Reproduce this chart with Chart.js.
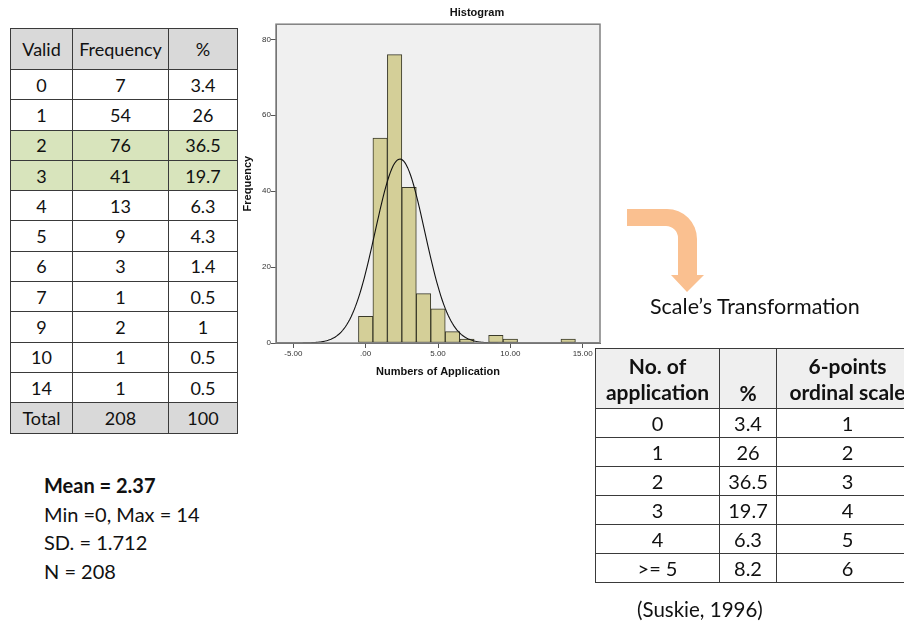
<!DOCTYPE html>
<html>
<head>
<meta charset="utf-8">
<script src="https://cdn.jsdelivr.net/npm/chart.js@4/dist/chart.umd.min.js"></script>
<style>
  html, body { margin:0; padding:0; background:#fff; }
  body { width:904px; height:622px; position:relative; overflow:hidden; font-family: Lato, "Open Sans", sans-serif; color:#111; }
  table { border-collapse:collapse; position:absolute; table-layout:fixed; }
  td, th { border:1px solid #3a3a3a; text-align:center; padding:0; }
  #t1 { left:10px; top:28px; font-size:18px; width:227px; }
  #t1 th { background:#d9d9d9; font-weight:normal; height:40px; }
  #t1 td { height:29.3px; background:#fff; }
  #t1 tr.hl td { background:#d8e4bc; }
  #t1 tr.tot td { background:#d9d9d9; }
  #wrap2 { position:absolute; left:595px; top:348px; width:309px; height:240px; overflow:hidden; }
  #t2 { left:0; top:0; font-size:20px; width:323px; }
  #t2 th { background:#efefef; font-weight:bold; height:57px; line-height:26px; font-size:21px; }
  #t2 td { height:28px; background:#fff; }
  #stats { position:absolute; left:44px; top:471px; font-size:20px; line-height:28.5px; }
  #trans { position:absolute; left:650px; top:293px; font-size:21.5px; }
  #cite { position:absolute; left:637px; top:597px; font-size:20.5px; }
  #cv { position:absolute; left:240px; top:0; }
  svg { position:absolute; left:0; top:0; }
</style>
</head>
<body>
<div id="cv"><canvas id="c" width="474" height="385" style="width:474px;height:385px"></canvas></div>
<table id="t1"><colgroup><col style="width:62px"><col style="width:96px"><col style="width:69px"></colgroup><thead><tr><th>Valid</th><th>Frequency</th><th>%</th></tr></thead><tbody id="t1b"></tbody></table>
<div id="stats"><b>Mean = 2.37</b><br>Min =0, Max = 14<br>SD. = 1.712<br>N = 208</div>
<svg width="904" height="622"><path d="M627 209 L667 209 A30 30 0 0 1 697 239 L697 275 L704 275 L687 292 L671 275 L678 275 L678 238 A12 12 0 0 0 666 226 L627 226 Z" fill="#fac090"/></svg>
<div id="trans">Scale’s Transformation</div>
<div id="wrap2"><table id="t2"><colgroup><col style="width:124px"><col style="width:57px"><col style="width:142px"></colgroup><thead><tr><th>No. of<br>application</th><th style="vertical-align:bottom;padding-bottom:2px">%</th><th>6-points<br>ordinal scale</th></tr></thead><tbody id="t2b"></tbody></table></div>
<div id="cite">(Suskie, 1996)</div>
<script>
const VALUES = [0, 1, 2, 3, 4, 5, 6, 7, 9, 10, 14];
const FREQ = [7, 54, 76, 41, 13, 9, 3, 1, 2, 1, 1];
const PCT = ['3.4', '26', '36.5', '19.7', '6.3', '4.3', '1.4', '0.5', '1', '0.5', '0.5'];
const TOTAL_N = 208;
const MEAN = 2.37;
const SD = 1.712;
const APP_LABELS = ['0', '1', '2', '3', '4', '>= 5'];
const APP_PCT = ['3.4', '26', '36.5', '19.7', '6.3', '8.2'];
const ORDINAL = [1, 2, 3, 4, 5, 6];
const X_TICKS = [-5, 0, 5, 10, 15];
const Y_TICKS = [0, 20, 40, 60, 80];

// tables
const t1b = document.getElementById('t1b');
VALUES.forEach((v, i) => {
  const tr = document.createElement('tr');
  if (v === 2 || v === 3) tr.className = 'hl';
  tr.innerHTML = '<td>' + v + '</td><td>' + FREQ[i] + '</td><td>' + PCT[i] + '</td>';
  t1b.appendChild(tr);
});
const trt = document.createElement('tr');
trt.className = 'tot';
trt.innerHTML = '<td>Total</td><td>' + TOTAL_N + '</td><td>100</td>';
t1b.appendChild(trt);
const t2b = document.getElementById('t2b');
APP_LABELS.forEach((l, i) => {
  const tr = document.createElement('tr');
  tr.innerHTML = '<td>' + l + '</td><td>' + APP_PCT[i] + '</td><td>' + ORDINAL[i] + '</td>';
  t2b.appendChild(tr);
});

// normal curve defined by the stated mean, SD and N (bin width 1)
const curve = [];
for (let k = 0; k <= 224; k++) {
  const x = -6.2 + k * 0.1;
  const y = TOTAL_N / (SD * Math.sqrt(2 * Math.PI)) * Math.exp(-0.5 * Math.pow((x - MEAN) / SD, 2));
  curve.push({x: x, y: y});
}

const frame = {
  id: 'frame',
  beforeDraw(chart) {
    const a = chart.chartArea, ctx = chart.ctx;
    ctx.save(); ctx.fillStyle = '#f0f0f0'; ctx.fillRect(a.left, a.top, a.right - a.left, a.bottom - a.top); ctx.restore();
  },
  afterDraw(chart) {
    const a = chart.chartArea, ctx = chart.ctx;
    ctx.save(); ctx.strokeStyle = '#808080'; ctx.lineWidth = 1.5;
    ctx.strokeRect(a.left, a.top, a.right - a.left, a.bottom - a.top); ctx.restore();
  }
};

new Chart(document.getElementById('c'), {
  type: 'bar',
  data: {
    datasets: [
      { type: 'line', data: curve, borderColor: '#111', borderWidth: 1.1, pointRadius: 0, tension: 0, order: 0 },
      { type: 'bar', data: VALUES.map((v, i) => ({x: v, y: FREQ[i]})), backgroundColor: '#d4cf98', borderColor: '#3a3a2a', borderWidth: 1, borderSkipped: false, barPercentage: 1, categoryPercentage: 1, order: 1 }
    ]
  },
  options: {
    responsive: false, animation: false,
    layout: { padding: 0 },
    plugins: {
      legend: { display: false }, tooltip: { enabled: false },
      title: { display: true, text: 'Histogram', color: '#111', font: { family: 'Liberation Sans', size: 11, weight: 'bold' }, padding: { top: 6, bottom: 5 } }
    },
    scales: {
      x: {
        type: 'linear', min: -6.2, max: 16.2, offset: false,
        afterBuildTicks: s => { s.ticks = X_TICKS.map(v => ({value: v})); },
        ticks: { autoSkip: false, maxRotation: 0, padding: 1, color: '#333', font: { family: 'Liberation Sans', size: 8 },
          callback: v => v === 0 ? '.00' : v.toFixed(2) },
        grid: { display: true, drawOnChartArea: false, tickLength: 5, color: '#555', offset: false },
        border: { display: true, color: '#555' },
        title: { display: true, text: 'Numbers of Application', color: '#111', font: { family: 'Liberation Sans', size: 11, weight: 'bold' }, padding: { top: 0, bottom: 6 } },
        afterFit: s => { s.height = 42; }
      },
      y: {
        min: 0, max: 84,
        afterBuildTicks: s => { s.ticks = Y_TICKS.map(v => ({value: v})); },
        ticks: { padding: 0, color: '#333', font: { family: 'Liberation Sans', size: 8 } },
        grid: { display: true, drawOnChartArea: false, tickLength: 5, color: '#555' },
        border: { display: true, color: '#555' },
        title: { display: true, text: 'Frequency', color: '#111', font: { family: 'Liberation Sans', size: 11, weight: 'bold' }, padding: { top: 1, bottom: 0 } },
        afterFit: s => { s.width = 36; }
      },
      yPad: {
        position: 'right', min: 0, max: 84, display: true,
        ticks: { display: false }, grid: { display: false }, border: { display: false },
        afterFit: s => { s.width = 114; }
      }
    }
  },
  plugins: [frame]
});
</script>
</body>
</html>
